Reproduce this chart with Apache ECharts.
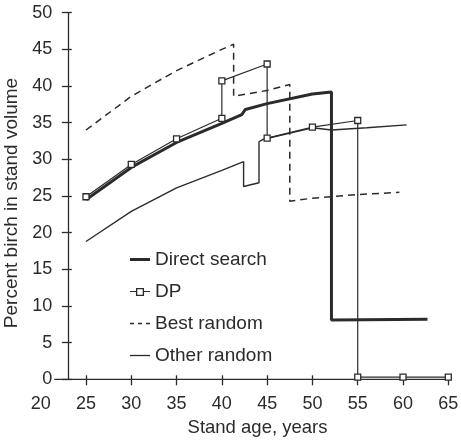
<!DOCTYPE html>
<html>
<head>
<meta charset="utf-8">
<script src="https://cdn.jsdelivr.net/npm/echarts@6/dist/echarts.min.js"></script>
<style>
html,body{margin:0;padding:0;background:#fff;}
#chart{width:461px;height:441px;}
</style>
</head>
<body>
<div id="chart"></div>
<script>
// ---- data (stand age in years, percent birch in stand volume) ----
const xTickValues = [20, 25, 30, 35, 40, 45, 50, 55, 60, 65];
const yTickValues = [0, 5, 10, 15, 20, 25, 30, 35, 40, 45, 50];
const xAxisLineExtent = [21.5, 65];

const directSearch = [[25,24.5],[30,28.9],[35,32.3],[40,34.9],[42.2,36.1],[42.6,36.8],[45,37.6],[50,38.9],[52.1,39.2],[52.1,8.1],[62.7,8.2]];
const dp = [[25,24.9],[30,29.3],[35,32.8],[40,35.6],[40,40.7],[45,43.0],[45,32.9],[50,34.4],[55,35.3],[55,0.3],[60,0.3],[65,0.3]];
const bestRandom = [[25,34.0],[30,38.6],[35,42.1],[40,45.0],[41.3,45.7],[41.3,38.6],[45,39.4],[47.5,40.2],[47.5,24.3],[50,24.7],[55,25.2],[59.6,25.5]];
const otherRandom = [[25,18.8],[30,22.9],[35,26.1],[40,28.5],[42.4,29.7],[42.4,26.3],[44.1,26.8],[44.1,32.4],[44.5,32.7],[50,34.3],[52.1,34.0],[52.1,33.8],[56,34.3],[60.4,34.7]];
const legendNames = ['Direct search', 'DP', 'Best random', 'Other random'];

const INK = '#2b2b2b';
const FONT = 'Liberation Sans, Arial, sans-serif';

// legend glyphs (20 x 14 box)
const BOX = 'M0,0M20,14';
const legendIcons = {
  'Direct search': 'path://' + BOX + 'M0,5.5H20V8.5H0Z',
  'DP': 'path://' + BOX + 'M0,6.4H6V7.6H0ZM14,6.4H20V7.6H14ZM6,3.5H14V11.5H6ZM7.3,4.8V10.2H12.7V4.8Z',
  'Best random': 'path://' + BOX + 'M0,6.3H4V7.7H0ZM8,6.3H12V7.7H8ZM16,6.3H20V7.7H16Z',
  'Other random': 'path://' + BOX + 'M0,6.35H20V7.65H0Z'
};

const chart = echarts.init(document.getElementById('chart'), null, {renderer:'canvas'});

const common = { min: 20, max: 65, interval: 5, type: 'value' };
const yCommon = { min: 0, max: 50, interval: 5, type: 'value' };

chart.setOption({
  animation: false,
  backgroundColor: '#fff',
  textStyle: { fontFamily: FONT, color: INK },
  grid: { left: 40.7, right: 12.7, top: 12.7, bottom: 441 - 379.3, containLabel: false, outerBoundsMode: 'none' },
  xAxis: [
    Object.assign({}, common, {
      position: 'bottom',
      name: 'Stand age, years',
      nameLocation: 'middle',
      nameGap: 37,
      nameTextStyle: { fontSize: 18.5, color: INK, fontFamily: FONT, padding: [0,0,0,26] },
      axisLine: { show: false },
      axisTick: { show: true, inside: false, length: 6, customValues: xTickValues.slice(1), lineStyle: { color: INK, width: 1.3 } },
      axisLabel: { fontSize: 18, color: INK, fontFamily: FONT, margin: 16, customValues: xTickValues },
      splitLine: { show: false }
    }),
    Object.assign({}, common, {
      position: 'bottom',
      axisLine: { show: false },
      axisTick: { show: true, inside: true, length: 4, customValues: xTickValues.slice(1), lineStyle: { color: INK, width: 1.3 } },
      axisLabel: { show: false },
      splitLine: { show: false }
    })
  ],
  yAxis: [
    Object.assign({}, yCommon, {
      position: 'left',
      offset: -27.6,
      name: 'Percent birch in stand volume',
      nameLocation: 'middle',
      nameGap: 43,
      nameTextStyle: { fontSize: 19, color: INK, fontFamily: FONT, padding: [0,14,0,0] },
      axisLine: { show: true, lineStyle: { color: INK, width: 1.3 } },
      axisTick: { show: true, inside: false, length: 6.5, customValues: yTickValues, lineStyle: { color: INK, width: 1.3 } },
      axisLabel: { fontSize: 18, color: INK, fontFamily: FONT, margin: 16, customValues: yTickValues },
      splitLine: { show: false }
    }),
    Object.assign({}, yCommon, {
      position: 'left',
      offset: -27.6,
      axisLine: { show: false },
      axisTick: { show: true, inside: true, length: 3.5, customValues: yTickValues, lineStyle: { color: INK, width: 1.3 } },
      axisLabel: { show: false },
      splitLine: { show: false }
    })
  ],
  legend: {
    orient: 'vertical',
    left: 125,
    top: 245,
    itemWidth: 20,
    itemHeight: 14,
    itemGap: 13,
    data: legendNames.map(n => ({ name: n, icon: legendIcons[n], itemStyle: { color: INK, borderWidth: 0 } })),
    textStyle: { fontSize: 19, color: INK, fontFamily: FONT, lineHeight: 19 }
  },
  series: [
    {
      name: 'xAxisLine', type: 'line', silent: true, symbol: 'none',
      data: xAxisLineExtent.map(v => [v, 0]),
      lineStyle: { color: INK, width: 1.3 }, z: 1
    },
    {
      name: 'Other random', type: 'line', symbol: 'none', data: otherRandom,
      lineStyle: { color: INK, width: 1.4 }, itemStyle: { color: INK }, z: 2
    },
    {
      name: 'Best random', type: 'line', symbol: 'none', data: bestRandom,
      lineStyle: { color: INK, width: 1.5, type: [7,5] }, itemStyle: { color: INK }, z: 2
    },
    {
      name: 'Direct search', type: 'line', symbol: 'none', data: directSearch,
      lineStyle: { color: INK, width: 3 }, itemStyle: { color: INK }, z: 3
    },
    {
      name: 'DP', type: 'line', symbol: 'rect', symbolSize: 6, data: dp,
      lineStyle: { color: INK, width: 1.2 },
      itemStyle: { color: '#fff', borderColor: INK, borderWidth: 1.3 }, z: 4
    }
  ]
});
</script>
</body>
</html>
